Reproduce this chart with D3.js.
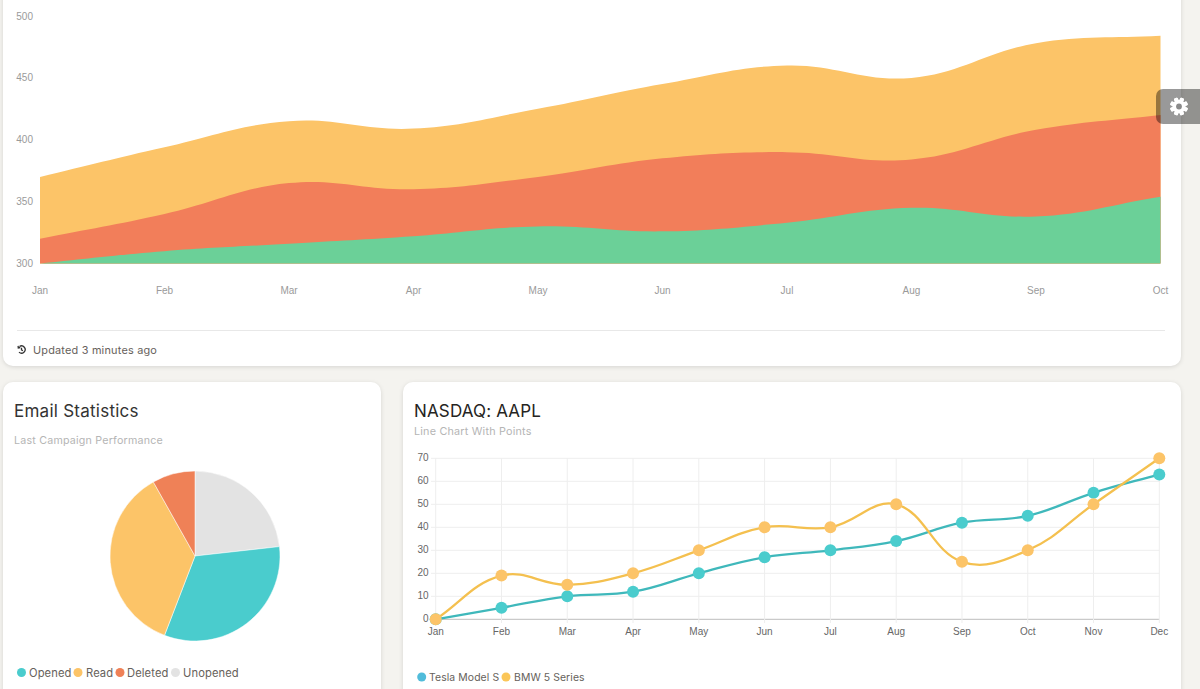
<!DOCTYPE html>
<html>
<head>
<meta charset="utf-8">
<script src="https://cdn.jsdelivr.net/npm/d3@7"></script>
<style>
  html, body { margin: 0; padding: 0; background: #f4f3ef; overflow: hidden; }
  svg { display: block; }
  .card { fill: #fff; filter: drop-shadow(0 1px 2px rgba(0,0,0,0.12)); }
  .tick-label { font-family: "Liberation Sans", Arial, sans-serif; font-size: 10px; }
  .ui { font-family: Inter, "Noto Sans", sans-serif; }
</style>
</head>
<body>
<svg id="page" width="1200" height="689"></svg>
<script>
// area chart
var areaMonths = ['Jan', 'Feb', 'Mar', 'Apr', 'May', 'Jun', 'Jul', 'Aug', 'Sep', 'Oct']
var areaTicks = [300, 350, 400, 450, 500]
var greenValues = [300, 310, 316, 322, 330, 326, 333, 345, 338, 354]
var redValues = [320, 340, 365, 360, 370, 385, 390, 384, 408, 420]
var orangeValues = [370, 394, 415, 409, 425, 445, 460, 450, 478, 484]

// pie
var pieLabels = ['Unopened', 'Opened', 'Read', 'Deleted']
var pieValues = [342, 480, 530, 120]
var pieColors = ['#e3e3e3', '#4acccd', '#fcc468', '#ef8157']

// line chart
var lineMonths = ['Jan', 'Feb', 'Mar', 'Apr', 'May', 'Jun', 'Jul', 'Aug', 'Sep', 'Oct', 'Nov', 'Dec']
var lineTicks = [0, 10, 20, 30, 40, 50, 60, 70]
var teslaValues = [0, 5, 10, 12, 20, 27, 30, 34, 42, 45, 55, 63]
var bmwValues = [0, 19, 15, 20, 30, 40, 40, 50, 25, 30, 50, 70]

var svg = d3.select('#page')

// same spline as the old Chart.js bezier, tension 0.4
function splineCurve(context) {
  var pts, line
  return {
    areaStart: function() { line = 0 },
    areaEnd: function() { line = NaN },
    lineStart: function() { pts = [] },
    point: function(x, y) { pts.push([x, y]) },
    lineEnd: function() {
      var ctrl = pts.map(function(p, i) {
        var a = pts[i - 1] || p, b = pts[i + 1] || p
        var d1 = Math.hypot(p[0] - a[0], p[1] - a[1])
        var d2 = Math.hypot(b[0] - p[0], b[1] - p[1])
        var s = d1 + d2 || 1
        var fa = 0.4 * d1 / s, fb = 0.4 * d2 / s
        return {
          inX: p[0] - fa * (b[0] - a[0]), inY: p[1] - fa * (b[1] - a[1]),
          outX: p[0] + fb * (b[0] - a[0]), outY: p[1] + fb * (b[1] - a[1])
        }
      })
      pts.forEach(function(p, i) {
        if (i == 0) {
          if (line == 1) context.lineTo(p[0], p[1])
          else context.moveTo(p[0], p[1])
        } else {
          context.bezierCurveTo(ctrl[i - 1].outX, ctrl[i - 1].outY, ctrl[i].inX, ctrl[i].inY, p[0], p[1])
        }
      })
      if (line == 1) context.closePath()
      if (line === 0) line = 1
    }
  }
}

// cards
svg.append('rect').attr('class', 'card').attr('x', 3).attr('y', -20).attr('width', 1178).attr('height', 386).attr('rx', 10)
svg.append('rect').attr('class', 'card').attr('x', 3).attr('y', 382).attr('width', 378).attr('height', 340).attr('rx', 10)
svg.append('rect').attr('class', 'card').attr('x', 403).attr('y', 382).attr('width', 778).attr('height', 340).attr('rx', 10)

// top chart
var areaX = d3.scalePoint().domain(areaMonths).range([40, 1160.5])
var areaY = d3.scaleLinear().domain([300, 500]).range([263.5, 16])
var area = d3.area()
  .x(function(d, i) { return areaX(areaMonths[i]) })
  .y0(areaY(300))
  .y1(function(d) { return areaY(d) })
  .curve(splineCurve)

var areaSeries = [
  {values: orangeValues, color: '#fcc468'},
  {values: redValues, color: '#f27e5a'},
  {values: greenValues, color: '#6bd098'}
]
svg.append('g').selectAll('path').data(areaSeries).enter().append('path')
  .attr('d', function(d) { return area(d.values) })
  .attr('fill', function(d) { return d.color })

svg.append('g').selectAll('text').data(areaTicks).enter().append('text')
  .attr('class', 'tick-label')
  .attr('x', 33).attr('y', function(d) { return areaY(d) + 3.5 })
  .attr('text-anchor', 'end').attr('fill', '#9a9a9a')
  .text(function(d) { return d })

svg.append('g').selectAll('text').data(areaMonths).enter().append('text')
  .attr('class', 'tick-label')
  .attr('x', function(d) { return areaX(d) }).attr('y', 294)
  .attr('text-anchor', 'middle').attr('fill', '#9a9a9a')
  .text(function(d) { return d })

svg.append('line').attr('x1', 17).attr('x2', 1165).attr('y1', 330.5).attr('y2', 330.5).attr('stroke', '#e8e8e8')

// history icon
var icon = svg.append('g').attr('transform', 'translate(21.5,349.5)').attr('fill', 'none').attr('stroke', '#333').attr('stroke-width', 1.3)
icon.append('path').attr('d', d3.arc()({innerRadius: 3.6, outerRadius: 3.6, startAngle: -0.6, endAngle: 3.9}))
icon.append('path').attr('d', 'M-3.4,-3.6L-3.2,-1.6L-1.2,-2M0,-1.8V0.4L1.4,1.2')
function label(x, y, str, size, color, spacing) {
  return svg.append('text').attr('class', 'ui')
    .attr('x', x).attr('y', y)
    .attr('font-size', size).attr('fill', color)
    .attr('letter-spacing', spacing || 0)
    .text(str)
}
label(33, 354, 'Updated 3 minutes ago', 10.9, '#66615b', 0.2)

// email statistics
label(14, 417, 'Email Statistics', 17, '#333', 0.25)
label(14, 444, 'Last Campaign Performance', 10.7, '#b5b5b5', 0.2)

var pie = d3.pie().sort(null)
var arc = d3.arc().innerRadius(0).outerRadius(85)
svg.append('g').attr('transform', 'translate(195,556)')
  .selectAll('path').data(pie(pieValues)).enter().append('path')
  .attr('d', arc)
  .attr('fill', function(d, i) { return pieColors[i] })
  .attr('stroke', '#fff').attr('stroke-width', 0.5)

var pieLegend = [
  {name: 'Opened', x: 21.5, textX: 29, color: '#4acccd'},
  {name: 'Read', x: 78, textX: 86, color: '#fcc468'},
  {name: 'Deleted', x: 120, textX: 127, color: '#ef8157'},
  {name: 'Unopened', x: 175.5, textX: 183, color: '#e3e3e3'}
]
pieLegend.forEach(function(d) {
  svg.append('circle').attr('cx', d.x).attr('cy', 672.5).attr('r', 4.5).attr('fill', d.color)
  label(d.textX, 677, d.name, 11.2, '#66615b', 0.1)
})

// nasdaq chart
label(414, 417, 'NASDAQ: AAPL', 17, '#252422', 0.15)
label(414, 435, 'Line Chart With Points', 10.8, '#b5b5b5', 0.2)

var lineX = d3.scalePoint().domain(lineMonths).range([435.7, 1159.3])
var lineY = d3.scaleLinear().domain([0, 70]).range([619.3, 458.3])

svg.append('g').selectAll('line').data(lineTicks).enter().append('line')
  .attr('x1', 431).attr('x2', 1159.3)
  .attr('y1', function(d) { return lineY(d) }).attr('y2', function(d) { return lineY(d) })
  .attr('stroke', function(d) { return d == 0 ? '#bdbdbd' : '#eeeeee' })

svg.append('g').selectAll('line').data(lineMonths).enter().append('line')
  .attr('x1', function(d) { return lineX(d) }).attr('x2', function(d) { return lineX(d) })
  .attr('y1', 458.3).attr('y2', 623)
  .attr('stroke', '#eeeeee')

svg.append('g').selectAll('text').data(lineTicks).enter().append('text')
  .attr('class', 'tick-label')
  .attr('x', 428.5).attr('y', function(d) { return lineY(d) + 3 })
  .attr('text-anchor', 'end').attr('fill', '#666')
  .text(function(d) { return d })

svg.append('g').selectAll('text').data(lineMonths).enter().append('text')
  .attr('class', 'tick-label')
  .attr('x', function(d) { return lineX(d) }).attr('y', 635)
  .attr('text-anchor', 'middle').attr('fill', '#666')
  .text(function(d) { return d })

var line = d3.line()
  .x(function(d, i) { return lineX(lineMonths[i]) })
  .y(function(d) { return lineY(d) })
  .curve(splineCurve)

var lineSeries = [
  {values: teslaValues, stroke: '#3fb8bb', fill: '#4acccd'},
  {values: bmwValues, stroke: '#f4c04f', fill: '#fcc468'}
]
lineSeries.forEach(function(s) {
  svg.append('path').attr('d', line(s.values)).attr('fill', 'none')
    .attr('stroke', s.stroke).attr('stroke-width', 2.3)
  svg.append('g').selectAll('circle').data(s.values).enter().append('circle')
    .attr('cx', function(d, i) { return lineX(lineMonths[i]) })
    .attr('cy', function(d) { return lineY(d) })
    .attr('r', 6)
    .attr('fill', s.fill)
})

var lineLegend = [
  {name: 'Tesla Model S', x: 421.7, textX: 429, color: '#51bcda'},
  {name: 'BMW 5 Series', x: 506, textX: 514, color: '#fbc658'}
]
lineLegend.forEach(function(d) {
  svg.append('circle').attr('cx', d.x).attr('cy', 677).attr('r', 4.5).attr('fill', d.color)
  label(d.textX, 681, d.name, 10.4, '#66615b', 0.1)
})

// settings button
svg.append('path')
  .attr('d', 'M1200,89H1163a7,7 0 0 0 -7,7V117a7,7 0 0 0 7,7H1200Z')
  .attr('fill', 'rgba(0,0,0,0.4)')
var gear = svg.append('g').attr('transform', 'translate(1179,106.5)').attr('fill', '#fff')
d3.range(8).forEach(function(i) {
  gear.append('rect').attr('x', -2).attr('y', -9).attr('width', 4).attr('height', 18).attr('rx', 1)
    .attr('transform', 'rotate(' + (i * 45 + 22.5) + ')')
})
gear.append('circle').attr('r', 4.8).attr('fill', 'none').attr('stroke', '#fff').attr('stroke-width', 3.6)
gear.append('circle').attr('r', 2.9).attr('fill', '#8a8a8a')
</script>
</body>
</html>
